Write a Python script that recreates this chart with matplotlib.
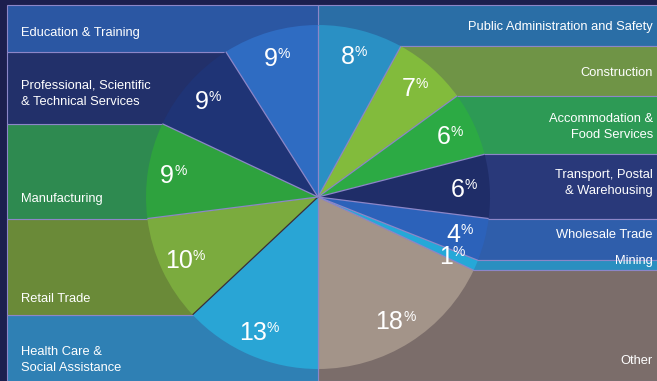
import numpy as np
import matplotlib
matplotlib.use("Agg")
import matplotlib.pyplot as plt
import matplotlib.patches as mpatches

plt.rcParams['font.family'] = ['Liberation Sans', 'DejaVu Sans']

# Industry shares, clockwise from 12 o'clock
industries = ['Public Administration and Safety', 'Construction',
              'Accommodation &\nFood Services', 'Transport, Postal\n& Warehousing',
              'Wholesale Trade', 'Mining', 'Other',
              'Health Care &\nSocial Assistance', 'Retail Trade', 'Manufacturing',
              'Professional, Scientific\n& Technical Services', 'Education & Training']
shares = [8, 7, 6, 6, 4, 1, 18, 13, 10, 9, 9, 9]
sides = ['R', 'R', 'R', 'R', 'R', 'R', 'R', 'L', 'L', 'L', 'L', 'L']

# colours: bright wedge / darker band behind
wedge_colors = ['#2a90c4', '#82bb3c', '#2caa44', '#1f2d68', '#2c62ba', '#25a8d8',
                '#a39489', '#29a5d5', '#7bab3e', '#2ea23e', '#1f3476', '#2f6cc2']
band_colors = ['#2a6ea6', '#6f9446', '#2d9a55', '#29397a', '#2f5eab', '#2a8fc0',
               '#7b6d6a', '#2f80b4', '#6a8a38', '#2e8a50', '#22306a', '#2b57a3']

# text layout (pixel rows from top)
label_rows = [27, 73, 127, 183, 235, 261, 361, 360, 299, 199, 94, 33]

W, H = 657, 381
cx, cy, R = 318, H - 197, 172
left_x, top_y = 7, H - 5
edge = '#8c86c8'

fig = plt.figure(figsize=(6.57, 3.81), dpi=100, facecolor='#1c1f4e')
ax = fig.add_axes([0, 0, 1, 1])
ax.set_facecolor('#1c1f4e')

# boundary angles (degrees, math convention)
cum = np.concatenate([[0], np.cumsum(shares)]) / sum(shares) * 360
angles = 90 - cum
bnd_y = cy + R * np.sin(np.radians(angles))

for i, (side, c) in enumerate(zip(sides, band_colors)):
    y0, y1 = bnd_y[i], bnd_y[i + 1]
    lo, hi = min(y0, y1), max(y0, y1)
    if i == 0 or i == len(shares) - 1:
        hi = top_y
    if side == 'R' and i == 6:
        lo = 0
    if side == 'L' and i == 7:
        lo = 0
    if side == 'R':
        x0, x1 = cx, W + 2
    else:
        x0, x1 = left_x, cx
    ax.add_patch(mpatches.Rectangle((x0, lo), x1 - x0, hi - lo, facecolor=c,
                                    edgecolor=edge, linewidth=0.8, zorder=1))

wedges, _ = ax.pie(shares, colors=wedge_colors, startangle=90, counterclock=False,
                   center=(cx, cy), radius=R, frame=True,
                   wedgeprops=dict(edgecolor='none', linewidth=0))
for w in wedges:
    w.set_zorder(2)

# radial separators
for k, a in enumerate(angles[:-1]):
    ex = cx + R * np.cos(np.radians(a))
    ey = cy + R * np.sin(np.radians(a))
    lc = '#3a2e3a' if k == 8 else edge
    ax.plot([cx, ex], [cy, ey], color=lc, linewidth=0.9, zorder=3,
            solid_capstyle='butt')

# band labels
for name, side, row in zip(industries, sides, label_rows):
    if side == 'R':
        ax.text(653, H - row, name, ha='right', va='center', fontsize=9.3,
                color='white', linespacing=1.45, zorder=4)
    else:
        ax.text(21, H - row, name, ha='left', va='center', fontsize=9.3,
                color='white', linespacing=1.45, zorder=4)

# percentage labels
mids = 90 - (cum[:-1] + cum[1:]) / 2
for s, a in zip(shares, mids):
    lx = cx + 0.85 * R * np.cos(np.radians(a))
    ly = cy + 0.85 * R * np.sin(np.radians(a))
    nd = len(str(s))
    p = lx + (nd * 13 - 12) / 2
    ax.text(p, ly - 9, str(s), ha='right', va='baseline', fontsize=18,
            color='white', zorder=5)
    ax.text(p, ly + 10, '%', ha='left', va='top', fontsize=10,
            color='white', zorder=5)

ax.set_xlim(0, W)
ax.set_ylim(0, H)
ax.set_aspect('auto')
ax.axis('off')

fig.savefig('out.png', dpi=100, facecolor=fig.get_facecolor())
